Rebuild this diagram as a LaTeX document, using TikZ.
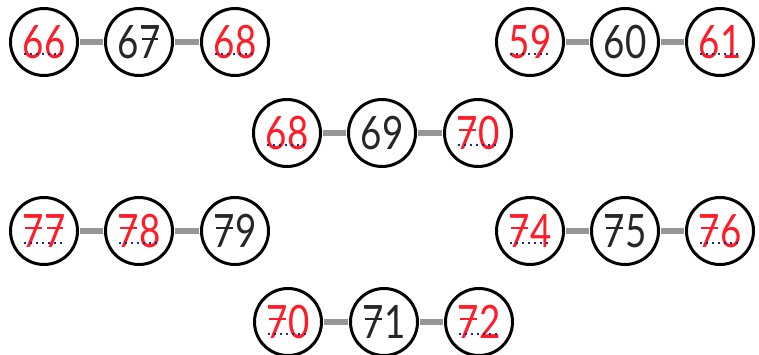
\documentclass[tikz,border=0pt]{standalone}
\usepackage{fontspec}
\newfontfamily\numfont[FakeStretch=0.8]{Lato}
\definecolor{ansred}{RGB}{255,28,40}
\definecolor{linkgray}{RGB}{150,150,150}
\definecolor{dotblue}{RGB}{30,45,120}
\newcommand\sv{\makebox[0pt][l]{\hspace{0.06em}\rule[0.40em]{0.36em}{0.05em}}7}
\tikzset{
  num/.style={circle,draw=black,line width=3pt,minimum size=67pt,inner sep=0pt,
    font=\numfont\fontsize{46}{52}\selectfont,text=black!85},
  ans/.style={num,text=ansred},
  link/.style={linkgray,line width=5.5pt,shorten >=1.4pt,shorten <=1.4pt},
  dotrule/.style={dotblue,line width=2pt,dash pattern=on 2pt off 4pt}
}
\begin{document}
\begin{tikzpicture}[x=1pt,y=-1pt]
\useasboundingbox (0,0) rectangle (759,355);
% row 1 left
\node[ans] (a1) at (44,42) {66};
\node[num] (a2) at (139,42) {6\sv};
\node[ans] (a3) at (235,42) {68};
% row 1 right
\node[ans] (b1) at (530,42) {59};
\node[num] (b2) at (625,42) {60};
\node[ans] (b3) at (720,42) {61};
% row 2
\node[ans] (c1) at (287,133) {68};
\node[num] (c2) at (382,133) {69};
\node[ans] (c3) at (478,133) {\sv0};
% row 3 left
\node[ans] (d1) at (44,231) {\sv\sv};
\node[ans] (d2) at (139,231) {\sv8};
\node[num] (d3) at (235,231) {\sv9};
% row 3 right
\node[ans] (e1) at (530,231) {\sv4};
\node[num] (e2) at (625,231) {\sv5};
\node[ans] (e3) at (720,231) {\sv6};
% row 4
\node[ans] (f1) at (288,322) {\sv0};
\node[num] (f2) at (384,322) {\sv1};
\node[ans] (f3) at (479,322) {\sv2};
% connectors
\foreach \p/\q in {a1/a2,a2/a3,b1/b2,b2/b3,c1/c2,c2/c3,d1/d2,d2/d3,e1/e2,e2/e3,f1/f2,f2/f3}
  \draw[link] (\p) -- (\q);
% dotted answer lines
\foreach \n in {a1,a3,b1,b3,c1,c3,d1,d2,e1,e3,f1,f3}
  \draw[dotrule] ([xshift=-20pt,yshift=-12pt]\n.center) -- ([xshift=20pt,yshift=-12pt]\n.center);
\end{tikzpicture}
\end{document}
